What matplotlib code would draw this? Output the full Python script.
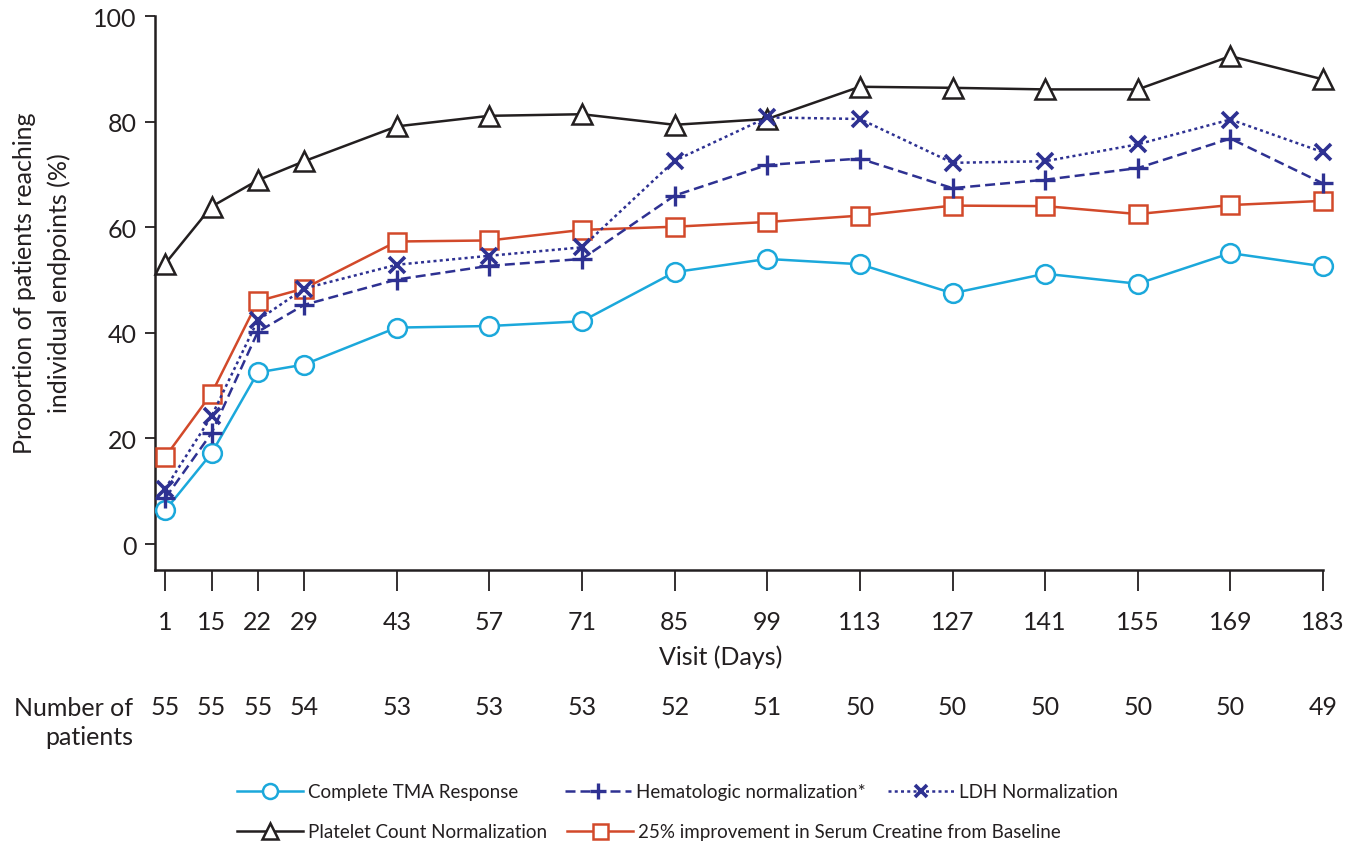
import numpy as np
import matplotlib
matplotlib.use("Agg")
import matplotlib.pyplot as plt
from matplotlib import font_manager

# ---------------- data ----------------
days = [1, 15, 22, 29, 43, 57, 71, 85, 99, 113, 127, 141, 155, 169, 183]
n_patients = [55, 55, 55, 54, 53, 53, 53, 52, 51, 50, 50, 50, 50, 50, 49]

complete_tma = [6.4, 17.2, 32.5, 34.0, 41.0, 41.3, 42.2, 51.5, 54.0, 53.0, 47.5, 51.2, 49.3, 55.1, 52.6]
hematologic = [8.7, 21.0, 40.2, 45.3, 50.1, 52.7, 54.0, 66.0, 71.8, 73.0, 67.4, 69.0, 71.2, 76.8, 68.3]
ldh = [10.5, 24.2, 42.4, 48.4, 52.9, 54.6, 56.2, 72.6, 80.8, 80.5, 72.2, 72.5, 75.7, 80.4, 74.2]
platelet = [53.1, 63.9, 68.9, 72.5, 79.1, 81.1, 81.4, 79.4, 80.5, 86.6, 86.4, 86.1, 86.1, 92.4, 88.0]
creatinine = [16.5, 28.5, 46.0, 48.4, 57.3, 57.5, 59.5, 60.1, 61.0, 62.2, 64.1, 64.0, 62.5, 64.2, 65.0]

labels = ["Complete TMA Response", "Hematologic normalization*", "LDH Normalization",
          "Platelet Count Normalization", "25% improvement in Serum Creatine from Baseline"]

# ---------------- style ----------------
avail = {f.name for f in font_manager.fontManager.ttflist}
font = "Lato" if "Lato" in avail else "DejaVu Sans"
plt.rcParams["font.family"] = [font, "DejaVu Sans"]
TXT = "#231F20"

CYAN = "#1BA8DB"
NAVY = "#2E3192"
BLACK = "#231F20"
ORANGE = "#D2492A"

FS = 18

fig = plt.figure(figsize=(13.48, 8.45), dpi=100)
ax = fig.add_axes([155 / 1348, 1 - 571 / 845, (1323 - 155) / 1348, (571 - 17) / 845])

# x slots: first visits one slot apart, later (two-week) visits two slots apart
x = np.concatenate([[0], np.cumsum([1 if i < 4 else 2 for i in range(1, len(days))])])

lw = 1.8
mew = 1.8
common = dict(lw=lw, clip_on=False)
ax.plot(x, complete_tma, color=CYAN, marker="o", ms=13.5, mfc="white", mec=CYAN,
        mew=mew, label=labels[0], zorder=3, **common)
ax.plot(x, hematologic, color=NAVY, ls=(0, (4, 2)), marker="+", ms=14, mec=NAVY,
        mew=2.4, label=labels[1], zorder=4, **common)
ax.plot(x, ldh, color=NAVY, ls=(0, (1.2, 1.3)), marker="x", ms=11, mec=NAVY,
        mew=2.6, label=labels[2], zorder=4, **common)
ax.plot(x, platelet, color=BLACK, marker="^", ms=15, mfc="white", mec=BLACK,
        mew=mew, label=labels[3], zorder=3, **common)
ax.plot(x, creatinine, color=ORANGE, marker="s", ms=13.5, mfc="white", mec=ORANGE,
        mew=mew, label=labels[4], zorder=3, **common)

ax.set_xlim(-0.22, x[-1])
ax.set_ylim(-4.9, 100)
ax.set_yticks([0, 20, 40, 60, 80, 100])
ax.set_xticks(x)
ax.set_xticklabels([str(d) for d in days])

for s in ("top", "right"):
    ax.spines[s].set_visible(False)
for s in ("left", "bottom"):
    ax.spines[s].set_linewidth(1.8)
    ax.spines[s].set_color(TXT)

ax.tick_params(axis="y", direction="out", length=7, width=1.3, colors=TXT,
               labelsize=FS, pad=6)
ax.tick_params(axis="x", direction="out", length=15, width=1.3, colors=TXT,
               labelsize=FS, pad=14)

ax.set_ylabel("Proportion of patients reaching\nindividual endpoints (%)", fontsize=FS,
              color=TXT, linespacing=1.55, va="center", ha="center")
ax.yaxis.set_label_coords(-0.0967, 0.52)
ax.set_xlabel("Visit (Days)", fontsize=FS, color=TXT, va="center")
ax.xaxis.set_label_coords(0.4846, -0.155)

# number of patients row
tr = ax.get_xaxis_transform()
for xi, n in zip(x, n_patients):
    ax.text(xi, -0.247, str(n), transform=tr, ha="center", va="center", fontsize=FS,
            color=TXT, clip_on=False)
fig.text(133 / 1348, 1 - 723 / 845, "Number of\npatients", ha="right", va="center",
         fontsize=FS, color=TXT, linespacing=1.35)

# legend, one entry per slot
handles, _ = ax.get_legend_handles_labels()
slots = [(237, 793), (565, 793), (888, 793), (237, 833), (567, 833)]
for h, lab, (px, py) in zip(handles, labels, slots):
    fig.legend([h], [lab], loc="center left", bbox_to_anchor=(px / 1348, 1 - py / 845),
               frameon=False, fontsize=13.5, handlelength=3.5, handletextpad=0.3,
               borderpad=0, borderaxespad=0, markerscale=0.8, labelcolor=TXT)

fig.savefig("out.png", dpi=100)
